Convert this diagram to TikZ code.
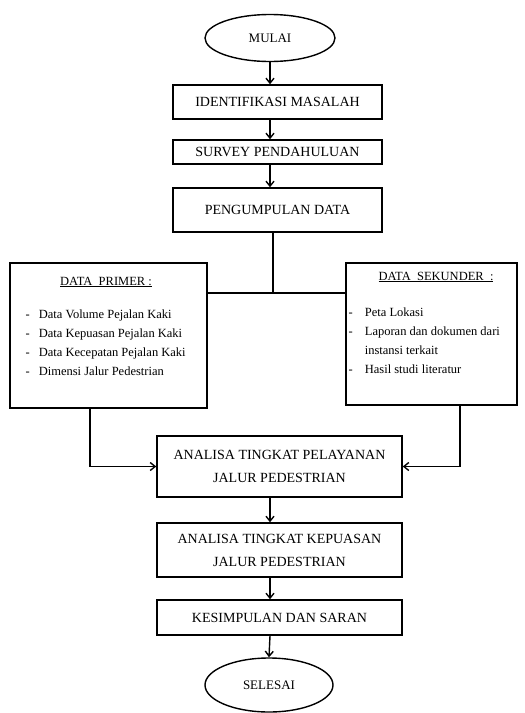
\documentclass[tikz,border=0pt]{standalone}
\usepackage{fontspec}
\setmainfont{Liberation Serif}
\usetikzlibrary{arrows.meta,shapes.geometric}
\begin{document}
\begin{tikzpicture}[x=1pt,y=-1pt,
  line width=1.4pt,
  boxtxt/.style={font=\fontsize{14}{23}\selectfont},
  flowbox/.style={draw, rectangle, inner sep=0pt, align=center, boxtxt},
  terminal/.style={draw, ellipse, inner sep=0pt, font=\fontsize{13}{16}\selectfont},
  databox/.style={draw, rectangle, inner sep=0pt},
  headtxt/.style={inner sep=0pt, font=\fontsize{12.5}{15}\selectfont},
  listtxt/.style={inner sep=0pt, anchor=base west, font=\fontsize{12.5}{19}\selectfont},
  arrow/.style={-{Straight Barb[length=5pt,width=8pt]}}
]
\useasboundingbox (0,0) rectangle (525,713);

\node[terminal, minimum width=130pt, minimum height=47pt] (mulai) at (270,38) {MULAI};
\node[flowbox, minimum width=209pt, minimum height=34pt] (ident) at (277.5,102) {IDENTIFIKASI MASALAH};
\node[flowbox, minimum width=209pt, minimum height=24pt] (survey) at (277.5,152) {SURVEY PENDAHULUAN};
\node[flowbox, minimum width=209pt, minimum height=44pt] (kumpul) at (277.5,210) {PENGUMPULAN DATA};

\node[databox, minimum width=197pt, minimum height=145pt] (primer) at (108.5,335.5) {};
\node[headtxt] (primerhead) at (106,282) {\underline{DATA\ \ PRIMER :}};
\node[listtxt] (primerlist) at (25,318) {\begin{tabular}[t]{@{}l@{\hspace{9pt}}l@{}}
- & Data Volume Pejalan Kaki\\
- & Data Kepuasan Pejalan Kaki\\
- & Data Kecepatan Pejalan Kaki\\
- & Dimensi Jalur Pedestrian
\end{tabular}};

\node[databox, minimum width=171pt, minimum height=142pt] (sekunder) at (431.5,334) {};
\node[headtxt] (sekunderhead) at (436,277) {\underline{DATA\ \ SEKUNDER\ \ :}};
\node[listtxt] (sekunderlist) at (348,316) {\begin{tabular}[t]{@{}l@{\hspace{12pt}}l@{}}
- & Peta Lokasi\\
- & Laporan dan dokumen dari\\
 & instansi terkait\\
- & Hasil studi literatur
\end{tabular}};

\node[flowbox, minimum width=245pt, minimum height=61pt] (analisa1) at (279.5,466.5) {ANALISA TINGKAT PELAYANAN\\JALUR PEDESTRIAN};
\node[flowbox, minimum width=245pt, minimum height=54pt] (analisa2) at (279.5,550) {ANALISA TINGKAT KEPUASAN\\JALUR PEDESTRIAN};
\node[flowbox, minimum width=245pt, minimum height=35pt] (simpul) at (279.5,617.5) {KESIMPULAN DAN SARAN};
\node[terminal, minimum width=128pt, minimum height=54pt] (selesai) at (269,685) {SELESAI};

\coordinate (j) at (273,293);
\coordinate (pl) at (90,408);
\coordinate (sr) at (460,405);

\draw[arrow] (mulai.south) -- (mulai.south |- ident.north);
\draw[arrow] (ident.south -| mulai.south) -- (mulai.south |- survey.north);
\draw[arrow] (survey.south -| mulai.south) -- (mulai.south |- kumpul.north);
\draw (kumpul.south -| j) -- (j);
\draw (primer.east |- j) -- (sekunder.west |- j);
\draw[arrow] (pl) |- (analisa1.west);
\draw[arrow] (sr) |- (analisa1.east);
\draw[arrow] (analisa1.south -| mulai.south) -- (mulai.south |- analisa2.north);
\draw[arrow] (analisa2.south -| mulai.south) -- (mulai.south |- simpul.north);
\draw[arrow] (simpul.south -| mulai.south) -- (selesai.north);
\end{tikzpicture}
\end{document}
